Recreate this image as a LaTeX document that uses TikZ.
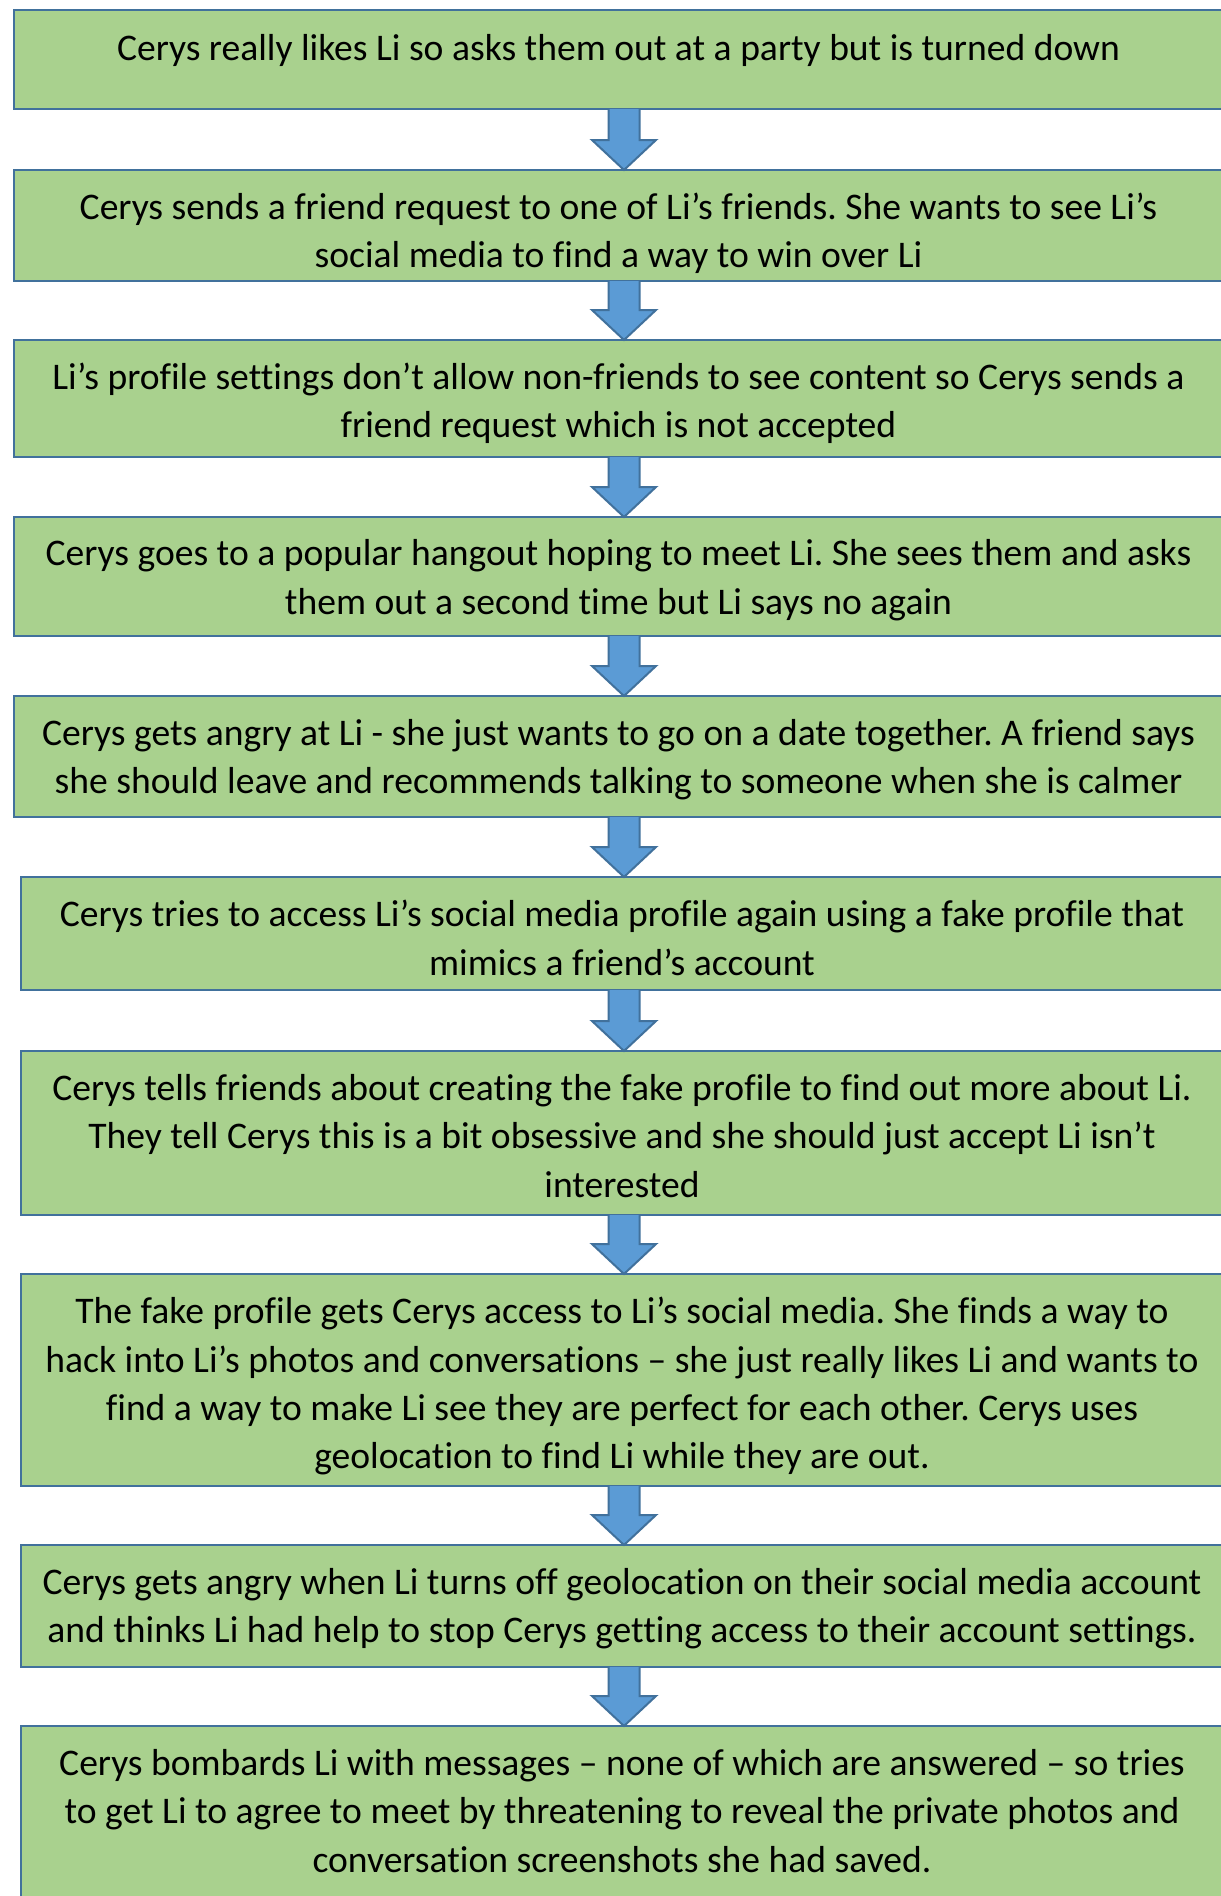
\documentclass[tikz,border=0pt]{standalone}
\usepackage{fontspec}
\setmainfont{Carlito}[Ligatures={NoCommon}]
\usetikzlibrary{calc}
\definecolor{boxfill}{HTML}{A9D18E}
\definecolor{boxline}{HTML}{41719C}
\definecolor{arrfill}{HTML}{5B9BD5}
\frenchspacing
\tikzset{
  stepbox/.style={draw=boxline, fill=boxfill, line width=2.5pt, rectangle, inner sep=0pt, outer sep=0pt, minimum width=#1},
  stepbox/.default=1209pt,
  steptext/.style={anchor=north, inner sep=0pt, align=center, font=\fontsize{37.6}{48.4}\selectfont},
  arr/.style={draw=boxline, fill=arrfill, line width=2pt, line join=miter},
}
\newcommand\blockarr[2]{%
  \path (#1.south -| ax) coordinate (s) (#2.north -| ax) coordinate (e);
  \filldraw[arr] ($(s)+(-15.5,0)$) -- ($(e)+(-15.5,-30)$) -- ($(e)+(-32,-30)$) -- (e)
     -- ($(e)+(32,-30)$) -- ($(e)+(15.5,-30)$) -- ($(s)+(15.5,0)$);
}
\begin{document}
\begin{tikzpicture}[x=1pt,y=-1pt]
\useasboundingbox (0,0) rectangle (1221,1896);
\fill[white] (0,0) rectangle (1221,1896);
\coordinate (ax) at (624,0);
% boxes: left 14 (1-5), 21 (6-10); right 1223
\node[stepbox, minimum height=99pt] (b1) at (618.5,59.5) {};
\node[stepbox, minimum height=111pt] (b2) at (618.5,225.5) {};
\node[stepbox, minimum height=117pt] (b3) at (618.5,398.5) {};
\node[stepbox, minimum height=119pt] (b4) at (618.5,576.5) {};
\node[stepbox, minimum height=121pt] (b5) at (618.5,756.5) {};
\node[stepbox=1202pt, minimum height=113pt] (b6) at (622,933.5) {};
\node[stepbox=1202pt, minimum height=164pt] (b7) at (622,1133) {};
\node[stepbox=1202pt, minimum height=212pt] (b8) at (622,1380) {};
\node[stepbox=1202pt, minimum height=122pt] (b9) at (622,1606) {};
\node[stepbox=1202pt, minimum height=204pt] (b10) at (622,1828) {};
% texts
\node[steptext] (t1) at ($(b1.north)+(0,24)$) {Cerys really likes Li so asks them out at a party but is turned down};
\node[steptext] (t2) at ($(b2.north)+(0,22.5)$) {Cerys sends a friend request to one of Li’s friends. She wants to see Li’s\\social media to find a way to win over Li};
\node[steptext] (t3) at ($(b3.north)+(0,22.5)$) {Li’s profile settings don’t allow non-friends to see content so Cerys sends a\\friend request which is not accepted};
\node[steptext] (t4) at ($(b4.north)+(0,22.5)$) {Cerys goes to a popular hangout hoping to meet Li. She sees them and asks\\them out a second time but Li says no again};
\node[steptext] (t5) at ($(b5.north)+(0,23)$) {Cerys gets angry at Li - she just wants to go on a date together. A friend says\\she should leave and recommends talking to someone when she is calmer};
\node[steptext] (t6) at ($(b6.north)+(0,23)$) {Cerys tries to access Li’s social media profile again using a fake profile that\\mimics a friend’s account};
\node[steptext] (t7) at ($(b7.north)+(0,23)$) {Cerys tells friends about creating the fake profile to find out more about Li.\\They tell Cerys this is a bit obsessive and she should just accept Li isn’t\\interested};
\node[steptext] (t8) at ($(b8.north)+(0,23)$) {The fake profile gets Cerys access to Li’s social media. She finds a way to\\hack into Li’s photos and conversations – she just really likes Li and wants to\\find a way to make Li see they are perfect for each other. Cerys uses\\geolocation to find Li while they are out.};
\node[steptext] (t9) at ($(b9.north)+(0,23)$) {Cerys gets angry when Li turns off geolocation on their social media account\\and thinks Li had help to stop Cerys getting access to their account settings.};
\node[steptext] (t10) at ($(b10.north)+(0,23)$) {Cerys bombards Li with messages – none of which are answered – so tries\\to get Li to agree to meet by threatening to reveal the private photos and\\conversation screenshots she had saved.};
% arrows
\blockarr{b1}{b2}
\blockarr{b2}{b3}
\blockarr{b3}{b4}
\blockarr{b4}{b5}
\blockarr{b5}{b6}
\blockarr{b6}{b7}
\blockarr{b7}{b8}
\blockarr{b8}{b9}
\blockarr{b9}{b10}
\end{tikzpicture}
\end{document}
